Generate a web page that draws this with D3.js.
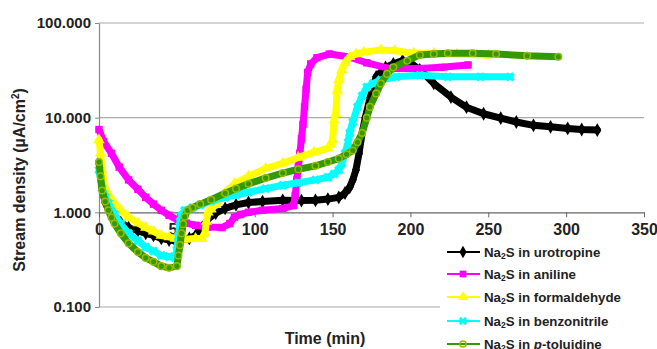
<!DOCTYPE html>
<style>
body { margin: 0; background: #fff; }
text { font-family: "Liberation Sans", Arial, sans-serif; font-weight: bold; fill: #222; }
</style>
<svg width="657" height="349"></svg>
<script src="https://d3js.org/d3.v7.min.js"></script>
<script>

var yTicks = [0.1, 1, 10, 100],
    yTickLabels = ["0.100", "1.000", "10.000", "100.000"],
    xTicks = [0, 50, 100, 150, 200, 250, 300, 350];

// Na2S in urotropine
var uroT = [0,2,4,7,10,14,19,25,30,35,40,45,49,53,58,62,66,70,75,81,88,96,105,118,130,139,147,154,158,161,163,165,167,169,171,174,178,184,189,195,200,206,215,226,236,247,258,268,279,290,301,310,320];
var uroV = [3.4,1.8,1.27,1.0,0.89,0.78,0.69,0.64,0.6,0.57,0.53,0.51,0.5,0.51,0.53,0.57,0.68,0.85,0.98,1.1,1.2,1.27,1.3,1.34,1.33,1.34,1.38,1.44,1.6,1.84,2.2,2.8,4.2,6.9,10,16,27,34,37,40,38,32,23,16.5,12.9,11,9.9,9,8.3,8,7.7,7.5,7.4];

// Na2S in aniline
var aniT = [0,3,8,13,19,25,30,35,40,45,51,56,62,70,79,84,87,91,96,105,118,125,126,127,128,129,130,131,132,133,134,136,140,148,160,172,187,206,220,237];
var aniV = [7.5,5.6,4.2,3.0,2.2,1.75,1.44,1.22,1.05,0.93,0.82,0.77,0.73,0.7,0.69,0.76,0.89,0.95,1.0,1.05,1.1,1.18,1.5,2.2,3.0,4.2,6,8.5,13,20,30,37,43,47,44,38,33,33,34,36];

// Na2S in formaldehyde
var forT = [0,1,2,4,7,10,14,19,25,30,35,40,45,49,55,62,66,68,69,70,72,75,81,87,96,107,118,128,138,147,149,150,151,152,153,154,156,158,161,165,170,181,190,202,215,230,250];
var forV = [5.8,4.2,2.8,1.8,1.45,1.25,1.05,0.89,0.77,0.69,0.63,0.57,0.55,0.53,0.52,0.53,0.53,0.6,0.8,1.0,1.08,1.2,1.6,2.0,2.4,2.9,3.3,3.8,4.3,4.75,5.2,5.8,9.4,11,19.5,25,32,38,44,47,49,52,51,48,48,47,46];

// Na2S in benzonitrile
var benT = [0,2,4,6,10,14,19,25,30,35,40,45,49,50,51,52,53,55,60,65,72,81,88,96,107,118,128,139,147,151,154,156,158,160,161,163,166,169,172,176,181,191,206,224,245,264];
var benV = [2.8,1.8,1.45,1.25,0.95,0.75,0.6,0.5,0.43,0.39,0.35,0.34,0.33,0.4,0.55,0.8,0.92,1.05,1.12,1.2,1.32,1.44,1.53,1.63,1.78,1.93,2.05,2.2,2.35,2.55,2.8,3.3,4.2,5.5,6.9,9,13,17,21,23,25,27,28,27,27,27];

// Na2S in p-toluidine
var tolT = [0,1,2,4,6,8,10,14,19,25,30,35,40,45,50,51,52,53,54,55,57,60,65,72,81,88,96,107,118,128,139,147,154,159,163,166,169,172,174,178,181,185,189,198,206,215,224,240,255,275,295];
var tolV = [3.4,2.4,1.7,1.3,1.05,0.88,0.76,0.6,0.47,0.38,0.33,0.3,0.27,0.26,0.27,0.35,0.45,0.6,0.75,0.9,1.05,1.12,1.22,1.36,1.59,1.78,2.0,2.3,2.6,2.85,3.1,3.4,3.7,4.1,4.5,5.5,6.9,10,13,18,23,29,34,40,46,47,48,48,47,45,44];

var series = [
  {name: "urotropine", t: uroT, v: uroV, color: "#000", mcolor: "#000", shape: d3.symbolDiamond},
  {name: "aniline", t: aniT, v: aniV, color: "#ff00ff", mcolor: "#ff00ff", shape: d3.symbolSquare},
  {name: "formaldehyde", t: forT, v: forV, color: "#ffff00", mcolor: "#ffff00", shape: d3.symbolTriangle},
  {name: "benzonitrile", t: benT, v: benV, color: "#00ffff", mcolor: "#00ffff", shape: d3.symbolCross},
  {name: "toluidine", t: tolT, v: tolV, color: "#339900", mcolor: "#99bb00", shape: d3.symbolCircle, open: true}
];

var svg = d3.select("svg"),
    pLeft = 99, pRight = 644, pTop = 23, pBottom = 307;

var x = d3.scaleLinear().domain([0, 350]).range([pLeft, pRight]);
var y = d3.scaleLog().domain([0.1, 100]).range([pBottom, pTop]);

// gridlines
svg.append("g").selectAll("line")
  .data([0.1, 10, 100])
  .enter().append("line")
    .attr("x1", pLeft).attr("x2", pRight)
    .attr("y1", function(d) { return y(d); })
    .attr("y2", function(d) { return y(d); })
    .attr("stroke", "#aaa").attr("stroke-width", 1.2);

// y axis
var yAxis = svg.append("g")
    .attr("transform", "translate(" + pLeft + ",0)")
    .call(d3.axisLeft(y).tickValues(yTicks).tickSize(4).tickSizeOuter(0).tickPadding(4)
      .tickFormat(function(d, i) { return yTickLabels[i]; }));
yAxis.select(".domain").attr("stroke", "#888").attr("stroke-width", 1.2);
yAxis.selectAll(".tick line").attr("stroke", "#888");
yAxis.selectAll("text").attr("font-size", 15).attr("fill", "#222")
    .attr("font-family", "Liberation Sans, Arial, sans-serif").attr("font-weight", "bold");

// x axis crossing at 1.0
var xAxis = svg.append("g")
    .attr("transform", "translate(0," + y(1) + ")")
    .call(d3.axisBottom(x).tickValues(xTicks).tickSize(5).tickSizeOuter(0).tickPadding(6));
xAxis.select(".domain").attr("stroke", "#666").attr("stroke-width", 1.2);
xAxis.selectAll(".tick line").attr("stroke", "#666");
xAxis.selectAll("text").attr("font-size", 16).attr("fill", "#222")
    .attr("font-family", "Liberation Sans, Arial, sans-serif").attr("font-weight", "bold");

// series
var line = d3.line()
    .x(function(d) { return x(d[0]); })
    .y(function(d) { return y(d[1]); });

series.forEach(function(s) {
  var pts = s.t.map(function(t, i) { return [t, s.v[i]]; });
  var g = svg.append("g");
  g.append("path")
      .attr("d", line(pts))
      .attr("fill", "none")
      .attr("stroke", s.color)
      .attr("stroke-width", 7)
      .attr("stroke-linejoin", "round")
      .attr("stroke-linecap", "round");
  g.selectAll("path.m")
    .data(pts)
    .enter().append("path")
      .attr("class", "m")
      .attr("transform", function(d) { return "translate(" + x(d[0]) + "," + y(d[1]) + ")" + (s.shape === d3.symbolCross ? " rotate(45)" : ""); })
      .attr("d", d3.symbol().type(s.shape).size(s.open ? 34 : 55))
      .attr("fill", s.open ? "none" : s.mcolor)
      .attr("stroke", s.open ? s.mcolor : "none")
      .attr("stroke-width", 1.5);
});

// axis titles
var yt = svg.append("text")
    .attr("transform", "translate(25,180) rotate(-90)")
    .attr("text-anchor", "middle")
    .attr("font-size", 16);
yt.append("tspan").text("Stream density (µA/cm");
yt.append("tspan").attr("font-size", 10).attr("dy", -6).text("2");
yt.append("tspan").attr("dy", 6).text(")");

svg.append("text")
    .attr("x", 325).attr("y", 344)
    .attr("text-anchor", "middle")
    .attr("font-size", 16)
    .text("Time (min)");

// legend
var legend = svg.append("g");
legend.append("rect")
    .attr("x", 440).attr("y", 241).attr("width", 217).attr("height", 110)
    .attr("fill", "#fff");

var rows = legend.selectAll("g.row")
  .data(series)
  .enter().append("g")
    .attr("class", "row")
    .attr("transform", function(d, i) { return "translate(0," + [252, 274, 297, 321, 344][i] + ")"; });

rows.append("line")
    .attr("x1", 447).attr("x2", 480)
    .attr("stroke", function(d) { return d.color; })
    .attr("stroke-width", 2);

rows.append("path")
    .attr("transform", function(d) { return "translate(463,0)" + (d.shape === d3.symbolCross ? " rotate(45)" : ""); })
    .attr("d", function(d) { return d3.symbol().type(d.shape).size(d.open ? 30 : 45)(); })
    .attr("fill", function(d) { return d.open ? "none" : d.mcolor; })
    .attr("stroke", function(d) { return d.open ? d.mcolor : "none"; })
    .attr("stroke-width", 1.5);

var lt = rows.append("text")
    .attr("x", 484).attr("y", 5)
    .attr("font-size", 13.3);
lt.append("tspan").text("Na");
lt.append("tspan").attr("font-size", 8.5).attr("dy", 2).text("2");
lt.append("tspan").attr("dy", -2).text(function(d) { return d.name === "toluidine" ? "S in " : "S in " + d.name; });
lt.filter(function(d) { return d.name === "toluidine"; })
  .each(function() {
    var t = d3.select(this);
    t.append("tspan").attr("font-style", "italic").text("p");
    t.append("tspan").text("-toluidine");
  });

</script>
